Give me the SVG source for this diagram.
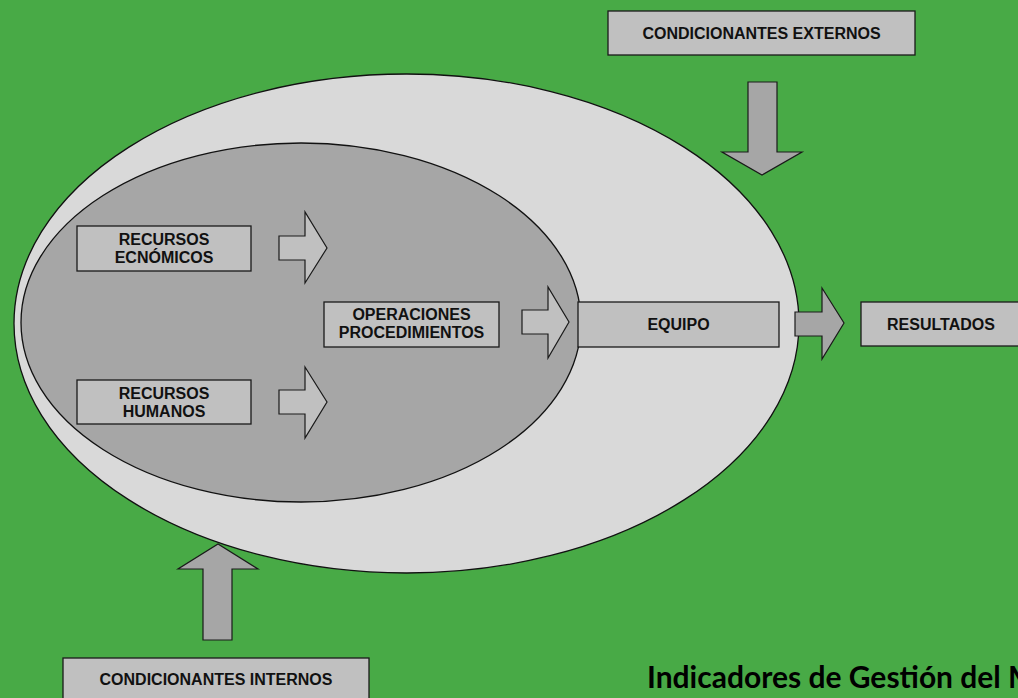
<svg xmlns="http://www.w3.org/2000/svg" width="1018" height="698" viewBox="0 0 1018 698">
<style>
.bx{fill:#c0c0c0;stroke:#1a1a1a;stroke-width:1.3}
.ar{stroke:#1a1a1a;stroke-width:1.2;stroke-linejoin:miter}
.dk{fill:#a6a6a6}
.lt{fill:#c0c0c0}
.t{font-family:"Liberation Sans",Arial,sans-serif;font-weight:bold;font-size:16px;fill:#111;text-anchor:middle}
.ttl{font-family:Lato,"Open Sans",sans-serif;font-weight:bold;font-size:30px;fill:#000}
</style>
<rect width="1018" height="698" fill="#48aa46"/>
<g id="outer"><ellipse cx="406.5" cy="323.5" rx="392.5" ry="249.5" fill="#d9d9d9" stroke="#111" stroke-width="1.3"/></g>
<g id="inner"><ellipse cx="301" cy="322.5" rx="280" ry="179.5" fill="#a6a6a6" stroke="#111" stroke-width="1.3"/></g>
<g id="connectors">
<polygon class="ar dk" points="748,82 777,82 777,152 802,152 762,175 722,152 748,152"/>
<polygon class="ar lt" points="279,236 305,236 305,212 327,248 305,283 305,260 279,260"/>
<polygon class="ar lt" points="279,390 305,390 305,367 327,402 305,438 305,414 279,414"/>
<polygon class="ar lt" points="522,310 548,310 548,287 569,322 548,358 548,334 522,334"/>
<polygon class="ar dk" points="795,312 822,312 822,288 844,323 822,359 822,336 795,336"/>
<polygon class="ar dk" points="203,640 232,640 232,569 258,569 218,544 178,569 203,569"/>
</g>
<g id="cond-ext"><rect class="bx" x="608" y="11" width="307" height="44"/><text class="t" x="761.5" y="38.5">CONDICIONANTES EXTERNOS</text></g>
<g id="rec-eco"><rect class="bx" x="77" y="226" width="174" height="45"/><text class="t" x="164" y="244.5">RECURSOS</text><text class="t" x="164" y="263">ECNÓMICOS</text></g>
<g id="rec-hum"><rect class="bx" x="77" y="380" width="174" height="44"/><text class="t" x="164" y="398.5">RECURSOS</text><text class="t" x="164" y="417">HUMANOS</text></g>
<g id="operaciones"><rect class="bx" x="324" y="302" width="175" height="45"/><text class="t" x="411.5" y="320">OPERACIONES</text><text class="t" x="411.5" y="338">PROCEDIMIENTOS</text></g>
<g id="equipo"><rect class="bx" x="578" y="302" width="201" height="45"/><text class="t" x="678.5" y="330">EQUIPO</text></g>
<g id="resultados"><rect class="bx" x="861" y="302" width="170" height="44"/><text class="t" x="941" y="329.5">RESULTADOS</text></g>
<g id="cond-int"><rect class="bx" x="63" y="658" width="306" height="50"/><text class="t" x="216" y="685">CONDICIONANTES INTERNOS</text></g>
<text class="ttl" x="647" y="688">Indicadores de Gestión del M</text>
</svg>
